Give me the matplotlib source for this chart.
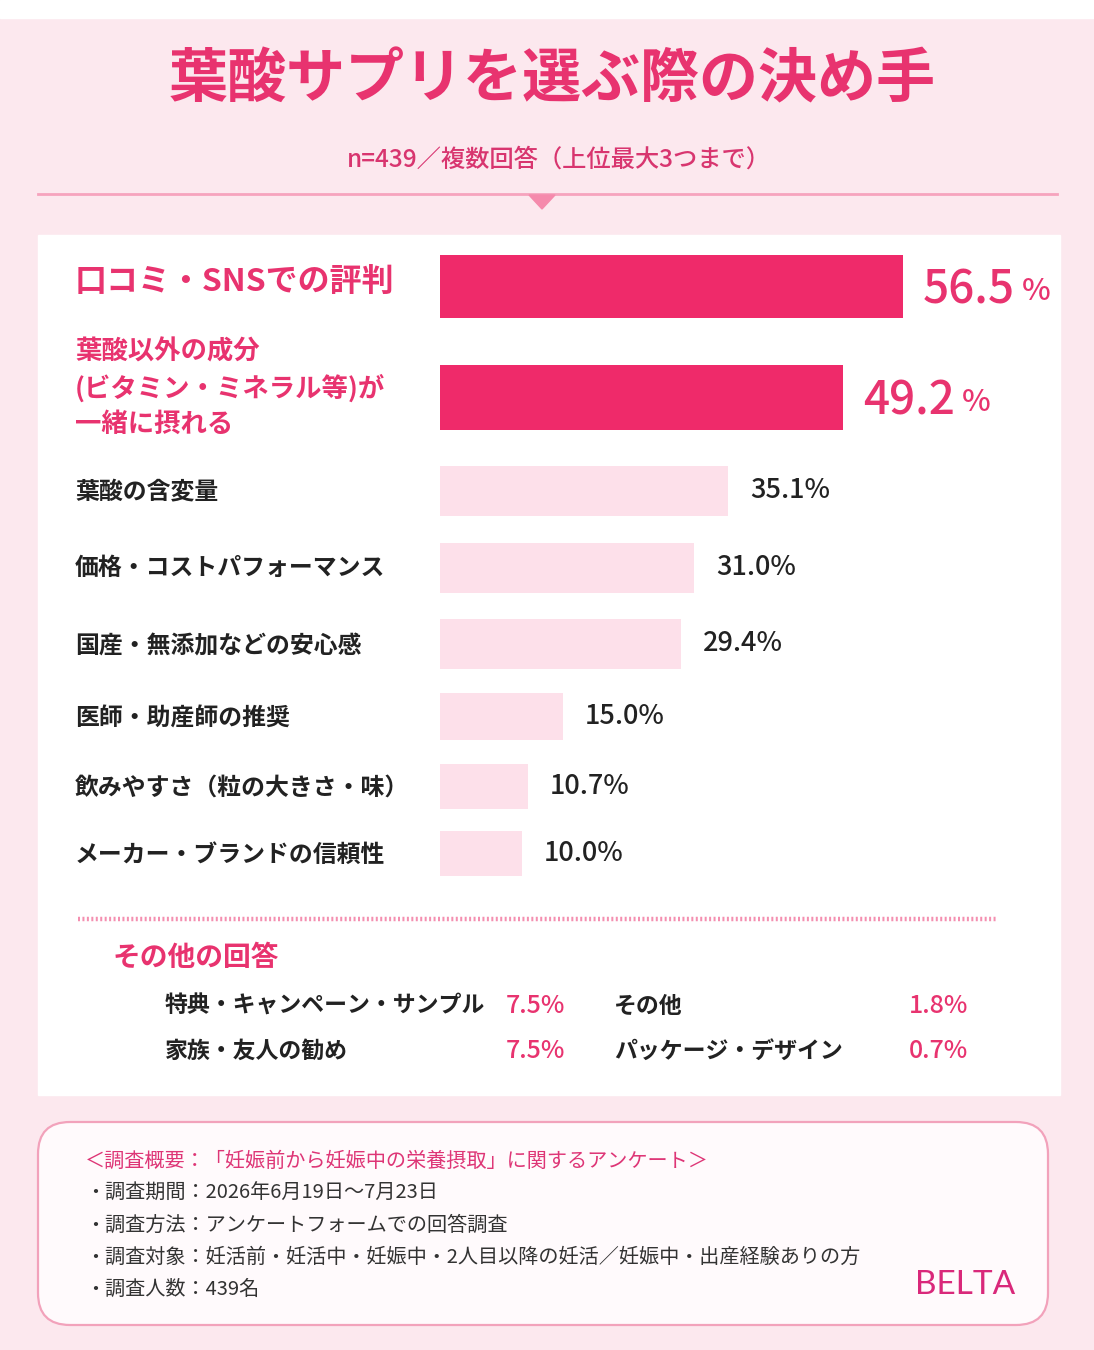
import matplotlib
matplotlib.use("Agg")
import matplotlib.pyplot as plt
from matplotlib.patches import Rectangle, FancyBboxPatch, Polygon

plt.rcParams['font.family'] = ['Noto Sans CJK JP', 'DejaVu Sans']

W, H = 1094, 1350
PINK = '#e8336f'
BAR_DARK = '#ef2a6a'
BAR_LIGHT = '#fde0ea'
INK = '#222222'

# data
title = '葉酸サプリを選ぶ際の決め手'
subtitle = 'n=439／複数回答（上位最大3つまで）'
categories = ['口コミ・SNSでの評判',
              '葉酸以外の成分\n(ビタミン・ミネラル等)が\n一緒に摂れる',
              '葉酸の含変量',
              '価格・コストパフォーマンス',
              '国産・無添加などの安心感',
              '医師・助産師の推奨',
              '飲みやすさ（粒の大きさ・味）',
              'メーカー・ブランドの信頼性']
values = [56.5, 49.2, 35.1, 31.0, 29.4, 15.0, 10.7, 10.0]
n_top = 2

other_title = 'その他の回答'
other_labels = ['特典・キャンペーン・サンプル', '家族・友人の勧め', 'その他', 'パッケージ・デザイン']
other_values = [7.5, 7.5, 1.8, 0.7]

survey_head = '＜調査概要：「妊娠前から妊娠中の栄養摂取」に関するアンケート＞'
survey_lines = ['・調査期間：2026年6月19日～7月23日',
                '・調査方法：アンケートフォームでの回答調査',
                '・調査対象：妊活前・妊活中・妊娠中・2人目以降の妊活／妊娠中・出産経験ありの方',
                '・調査人数：439名']
brand = 'BELTA'

# layout (pixels from top)
bar_y = [287, 398, 491, 568, 644, 717, 787, 854]
bar_h = [63, 65, 50, 50, 50, 47, 45, 45]
label_y = [283, 388, 491, 568, 646, 718, 788, 855]
px_per_pct = 8.2

fig = plt.figure(figsize=(W / 100, H / 100), dpi=100)

# background axes in pixel units
bg = fig.add_axes([0, 0, 1, 1])
bg.set_xlim(0, W)
bg.set_ylim(H, 0)
bg.axis('off')
bg.add_patch(Rectangle((0, 0), W, H, color='#fce8ee', zorder=0))
bg.add_patch(Rectangle((0, 0), W, 18, color='white', zorder=0))

bg.text(552, 80, title, ha='center', va='center', fontsize=42.5,
        fontweight='bold', color=PINK)
bg.text(559, 160, subtitle, ha='center', va='center', fontsize=17.5,
        fontweight='medium', color='#d8356f')
bg.plot([38, 1057], [194, 194], color='#f6a3bd', lw=2, zorder=1)
bg.add_patch(Polygon([(529, 195), (555, 195), (542, 209)], color='#f58aac', zorder=2))

# white panel
bg.add_patch(Rectangle((38, 235), 1022, 860, color='white', zorder=1))

# category labels
for i, (lab, y) in enumerate(zip(categories, label_y)):
    if i == 0:
        bg.text(75, y, lab, ha='left', va='center', fontsize=23,
                fontweight='bold', color=PINK, zorder=3)
    elif i < n_top:
        bg.text(75, y, lab, ha='left', va='center', fontsize=19,
                fontweight='bold', color=PINK, linespacing=1.4, zorder=3)
    else:
        bg.text(75, y, lab, ha='left', va='center', fontsize=17.2,
                fontweight='bold', color=INK, zorder=3)

# bar axes
x0, x1, y0, y1 = 440, 1060, 235, 900
ax = fig.add_axes([x0 / W, 1 - y1 / H, (x1 - x0) / W, (y1 - y0) / H])
ax.set_xlim(0, (x1 - x0) / px_per_pct)
ax.set_ylim(y1, y0)
ax.axis('off')
ax.patch.set_alpha(0)

colors = [BAR_DARK if i < n_top else BAR_LIGHT for i in range(len(values))]
ax.barh(bar_y, values, height=bar_h, color=colors, left=0)

for i, (v, y) in enumerate(zip(values, bar_y)):
    if i < n_top:
        t = ax.annotate(f'{v:.1f}', xy=(v, y + 3), xytext=(14, 0),
                        textcoords='offset points', ha='left', va='center',
                        fontsize=33, fontweight='medium', color=PINK)
        ax.annotate('%', xy=(1, 0.13), xycoords=t, xytext=(5, 0),
                    textcoords='offset points', ha='left', va='bottom',
                    fontsize=22, fontweight='medium', color=PINK)
    else:
        ax.annotate(f'{v:.1f}%', xy=(v, y), xytext=(16, 0),
                    textcoords='offset points', ha='left', va='center',
                    fontsize=19.5, fontweight='medium', color=INK)

# dotted separator
bg.plot([78, 998], [919, 919], color='#f48fb0', lw=3.2,
        linestyle=(0, (0.45, 0.55)), zorder=3)

bg.text(113, 958, other_title, ha='left', va='center', fontsize=20,
        fontweight='bold', color=PINK, zorder=3)

other_lx = [165, 165, 614, 614]
other_vx = [565, 565, 968, 968]
other_yy = [1006, 1051, 1006, 1051]
for lab, v, lx, vx, y in zip(other_labels, other_values, other_lx, other_vx, other_yy):
    bg.text(lx, y, lab, ha='left', va='center', fontsize=16.5, fontweight='bold',
            color=INK, zorder=3)
    bg.text(vx, y, f'{v:.1f}%', ha='right', va='center', fontsize=18,
            fontweight='medium', color=PINK, zorder=3)

# survey box
bg.add_patch(FancyBboxPatch((38, 1122), 1010, 203,
                            boxstyle='round,pad=0,rounding_size=32',
                            facecolor='#fffafc', edgecolor='#f2a2bb', lw=1.6, zorder=1))
bg.text(85, 1161, survey_head, ha='left', va='center', fontsize=14.5,
        color='#de3576', zorder=3)
for k, line in enumerate(survey_lines):
    bg.text(85, 1193 + 32 * k, line, ha='left', va='center', fontsize=14.5,
            color='#333333', zorder=3)
bg.text(1015, 1285, brand, ha='right', va='center', fontsize=24,
        family=['Lato', 'DejaVu Sans'], fontweight='normal', color='#d9287a', zorder=3)

fig.savefig('out.png', dpi=100)
